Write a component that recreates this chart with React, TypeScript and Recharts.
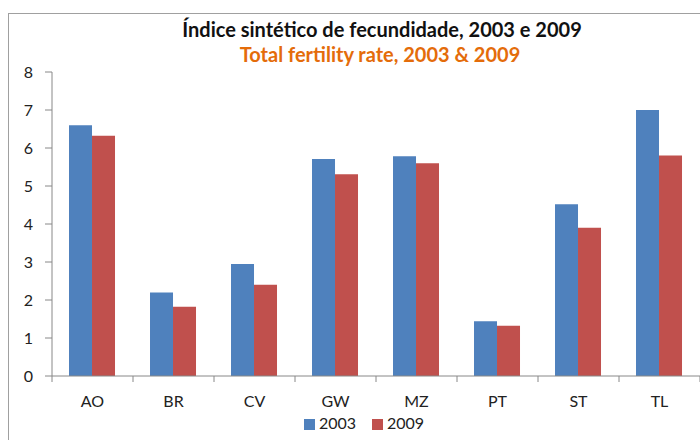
import React from 'react';
import { BarChart, Bar, XAxis, YAxis, Legend } from 'recharts';

const categories = ['AO', 'BR', 'CV', 'GW', 'MZ', 'PT', 'ST', 'TL'];
const values2003 = [6.6, 2.2, 2.95, 5.71, 5.78, 1.44, 4.52, 7.0];
const values2009 = [6.32, 1.82, 2.4, 5.31, 5.6, 1.32, 3.9, 5.8];
const yTicks = [0, 1, 2, 3, 4, 5, 6, 7, 8];
const seriesNames = ['2003', '2009'];
const titleText = 'Índice sintético de fecundidade, 2003 e 2009';
const subtitleText = 'Total fertility rate, 2003 & 2009';

const data = categories.map((c, i) => ({ name: c, v2003: values2003[i], v2009: values2009[i] }));

const FONT = 'Lato, "Open Sans", sans-serif';
const AXIS = '#888888';

const CategoryTick = (props: any) => {
  const { x, y, payload, index, visibleTicksCount } = props;
  const off = payload && payload.offset ? payload.offset : 0;
  return (
    <g>
      <line x1={x - off} x2={x - off} y1={y} y2={y + 6} stroke={AXIS} strokeWidth={1} />
      {index === (visibleTicksCount ?? categories.length) - 1 && (
        <line x1={x + off} x2={x + off} y1={y} y2={y + 6} stroke={AXIS} strokeWidth={1} />
      )}
      <text x={x} y={y + 31} textAnchor="middle" fontSize={16} fontFamily={FONT} fill="#222">
        {payload.value}
      </text>
    </g>
  );
};

export default function App() {
  return (
    <div style={{ position: 'absolute', left: 0, top: 0, width: 700, height: 440, background: '#fff', overflow: 'hidden' }}>
      <div style={{ position: 'absolute', left: 8, top: 13, width: 720, height: 460, border: '1px solid #a0a0a0' }} />
      <div style={{ position: 'absolute', left: 0, width: 764, top: 17, lineHeight: '24px', textAlign: 'center', fontFamily: FONT, fontWeight: 700, fontSize: 20, color: '#111' }}>
        {titleText}
      </div>
      <div style={{ position: 'absolute', left: 0, width: 760, top: 42, lineHeight: '24px', textAlign: 'center', fontFamily: FONT, fontWeight: 700, fontSize: 20, color: '#E46C0A' }}>
        {subtitleText}
      </div>
      <div style={{ position: 'absolute', left: 0, top: 0 }}>
        <BarChart
          width={700}
          height={440}
          data={data}
          margin={{ top: 72, right: 0, bottom: 8, left: 0 }}
          barCategoryGap="21%"
          barGap={0}
        >
          <XAxis
            dataKey="name"
            height={37}
            stroke={AXIS}
            tickLine={false}
            tickSize={0}
            tickMargin={0}
            tick={<CategoryTick />}
            interval={0}
          />
          <YAxis
            width={52}
            domain={[0, 8]}
            ticks={yTicks}
            stroke={AXIS}
            tickSize={7}
            tickMargin={12}
            tick={{ fontSize: 16, fontFamily: FONT, fill: '#222' }}
          />
          <Legend
            verticalAlign="bottom"
            iconType="square"
            iconSize={11}
            wrapperStyle={{ fontFamily: FONT, fontSize: 16, color: '#222', left: 22 }}
            formatter={(v: string) => <span style={{ color: '#222', marginRight: 6 }}>{v}</span>}
          />
          <Bar dataKey="v2003" name={seriesNames[0]} fill="#4F81BD" isAnimationActive={false} />
          <Bar dataKey="v2009" name={seriesNames[1]} fill="#C0504D" isAnimationActive={false} />
        </BarChart>
      </div>
    </div>
  );
}
